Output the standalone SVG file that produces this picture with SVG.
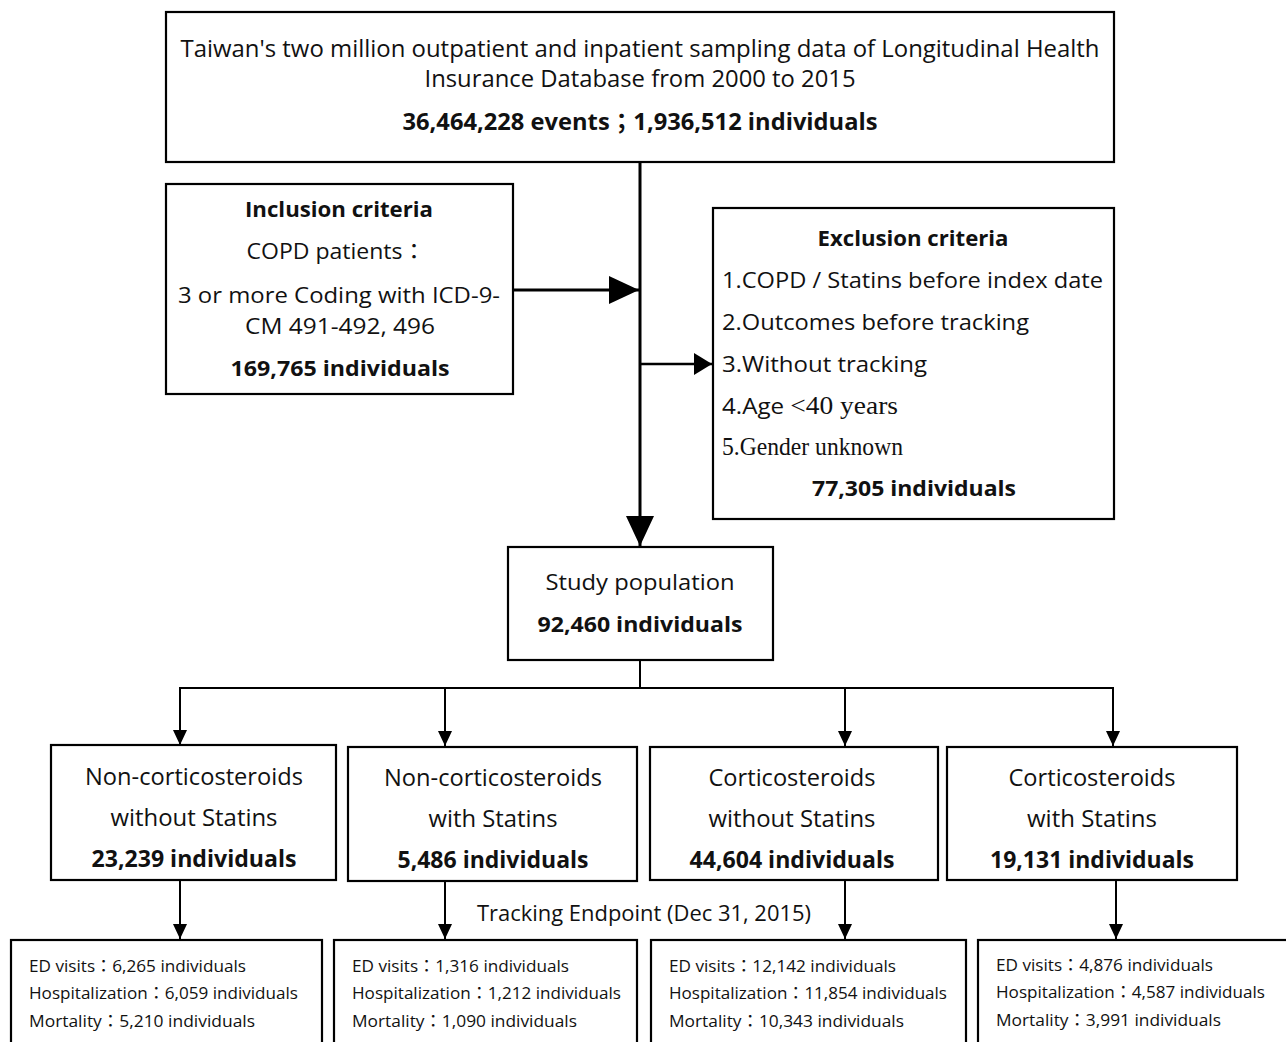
<svg xmlns="http://www.w3.org/2000/svg" width="1286" height="1042" viewBox="0 0 1286 1042">
<style>
.box{fill:#fff;stroke:#000;stroke-width:2.2}
text{font-family:"Open Sans","Noto Sans","Noto Sans CJK TC",sans-serif;fill:#111}
.c{text-anchor:middle}
.b{font-weight:bold}
.t{font-size:23px}
.m{font-size:22px}
.s{font-size:17px}
.serif{font-family:"Liberation Serif","Noto Sans CJK TC",serif}
.ln{fill:none;stroke:#000}
</style>
<defs>
<marker id="big" markerUnits="userSpaceOnUse" viewBox="0 0 30 28" markerWidth="30" markerHeight="28" refX="30" refY="14" orient="auto"><path d="M0,0 L30,14 L0,28 z" fill="#000"/></marker>
<marker id="mid" markerUnits="userSpaceOnUse" viewBox="0 0 18 22" markerWidth="18" markerHeight="22" refX="18" refY="11" orient="auto"><path d="M0,0 L18,11 L0,22 z" fill="#000"/></marker>
<marker id="sm" markerUnits="userSpaceOnUse" viewBox="0 0 15 14" markerWidth="15" markerHeight="14" refX="15" refY="7" orient="auto"><path d="M0,0 L15,7 L0,14 z" fill="#000"/></marker>
</defs>
<rect width="1286" height="1042" fill="#fff"/>
<g id="connectors">
<path class="ln" stroke-width="3" d="M640,162 V546" marker-end="url(#big)"/>
<path class="ln" stroke-width="3" d="M513,290 H639" marker-end="url(#big)"/>
<path class="ln" stroke-width="2.5" d="M640,364 H712" marker-end="url(#mid)"/>
<path class="ln" stroke-width="2" d="M640,660 V688 M179,688 H1114"/>
<path class="ln" stroke-width="2" d="M180,688 V745" marker-end="url(#sm)"/>
<path class="ln" stroke-width="2" d="M445,688 V746" marker-end="url(#sm)"/>
<path class="ln" stroke-width="2" d="M845,688 V746" marker-end="url(#sm)"/>
<path class="ln" stroke-width="2" d="M1113,687 V746" marker-end="url(#sm)"/>
<path class="ln" stroke-width="2" d="M180,880 V939" marker-end="url(#sm)"/>
<path class="ln" stroke-width="2" d="M445,881 V939" marker-end="url(#sm)"/>
<path class="ln" stroke-width="2" d="M845,880 V939" marker-end="url(#sm)"/>
<path class="ln" stroke-width="2" d="M1116,880 V939" marker-end="url(#sm)"/>
</g>
<g id="source">
<rect class="box" x="166" y="12" width="948" height="150"/>
<text class="t c" x="640" y="57" textLength="919" lengthAdjust="spacingAndGlyphs">Taiwan's two million outpatient and inpatient sampling data of Longitudinal Health</text>
<text class="t c" x="640" y="87" textLength="431" lengthAdjust="spacingAndGlyphs">Insurance Database from 2000 to 2015</text>
<text class="t c b" x="640" y="130" textLength="475" lengthAdjust="spacingAndGlyphs">36,464,228 events；1,936,512 individuals</text>
</g>
<g id="inclusion">
<rect class="box" x="166" y="184" width="347" height="210"/>
<text class="m c b" x="339" y="217" textLength="188" lengthAdjust="spacingAndGlyphs">Inclusion criteria</text>
<text class="m c" x="336" y="259" textLength="179" lengthAdjust="spacingAndGlyphs">COPD patients：</text>
<text class="m c" x="339" y="303" textLength="322" lengthAdjust="spacingAndGlyphs">3 or more Coding with ICD-9-</text>
<text class="m c" x="340" y="334" textLength="190" lengthAdjust="spacingAndGlyphs">CM 491-492, 496</text>
<text class="m c b" x="340" y="376" textLength="219" lengthAdjust="spacingAndGlyphs">169,765 individuals</text>
</g>
<g id="exclusion">
<rect class="box" x="713" y="208" width="401" height="311"/>
<text class="m c b" x="913" y="246" textLength="191" lengthAdjust="spacingAndGlyphs">Exclusion criteria</text>
<text class="m" x="722" y="288" textLength="381" lengthAdjust="spacingAndGlyphs">1.COPD / Statins before index date</text>
<text class="m" x="722" y="330" textLength="307" lengthAdjust="spacingAndGlyphs">2.Outcomes before tracking</text>
<text class="m" x="722" y="372" textLength="205" lengthAdjust="spacingAndGlyphs">3.Without tracking</text>
<text class="m" x="722" y="414" textLength="176" lengthAdjust="spacingAndGlyphs">4.Age <tspan class="serif" font-size="25">&lt;40 years</tspan></text>
<text class="m" x="722" y="455" textLength="181" lengthAdjust="spacingAndGlyphs"><tspan class="serif" font-size="25">5.Gender unknown</tspan></text>
<text class="m c b" x="914" y="496" textLength="204" lengthAdjust="spacingAndGlyphs">77,305 individuals</text>
</g>
<g id="study">
<rect class="box" x="508" y="547" width="265" height="113"/>
<text class="m c" x="640" y="590" textLength="189" lengthAdjust="spacingAndGlyphs">Study population</text>
<text class="m c b" x="640" y="632" textLength="205" lengthAdjust="spacingAndGlyphs">92,460 individuals</text>
</g>
<g id="group1">
<rect class="box" x="51" y="745" width="285" height="135"/>
<text class="t c" x="194" y="785" textLength="218" lengthAdjust="spacingAndGlyphs">Non-corticosteroids</text>
<text class="t c" x="194" y="826" textLength="167" lengthAdjust="spacingAndGlyphs">without Statins</text>
<text class="t c b" x="194" y="867" textLength="205" lengthAdjust="spacingAndGlyphs">23,239 individuals</text>
</g>
<g id="group2">
<rect class="box" x="348" y="747" width="289" height="134"/>
<text class="t c" x="493" y="786" textLength="218" lengthAdjust="spacingAndGlyphs">Non-corticosteroids</text>
<text class="t c" x="493" y="827" textLength="129" lengthAdjust="spacingAndGlyphs">with Statins</text>
<text class="t c b" x="493" y="868" textLength="191" lengthAdjust="spacingAndGlyphs">5,486 individuals</text>
</g>
<g id="group3">
<rect class="box" x="650" y="747" width="288" height="133"/>
<text class="t c" x="792" y="786" textLength="167" lengthAdjust="spacingAndGlyphs">Corticosteroids</text>
<text class="t c" x="792" y="827" textLength="167" lengthAdjust="spacingAndGlyphs">without Statins</text>
<text class="t c b" x="792" y="868" textLength="205" lengthAdjust="spacingAndGlyphs">44,604 individuals</text>
</g>
<g id="group4">
<rect class="box" x="947" y="747" width="290" height="133"/>
<text class="t c" x="1092" y="786" textLength="167" lengthAdjust="spacingAndGlyphs">Corticosteroids</text>
<text class="t c" x="1092" y="827" textLength="130" lengthAdjust="spacingAndGlyphs">with Statins</text>
<text class="t c b" x="1092" y="868" textLength="204" lengthAdjust="spacingAndGlyphs">19,131 individuals</text>
</g>
<g id="tracking-label">
<text class="c" font-size="21" x="644" y="921" textLength="334" lengthAdjust="spacingAndGlyphs">Tracking Endpoint (Dec 31, 2015)</text>
</g>
<g id="outcome1">
<rect class="box" x="11" y="940" width="311" height="110"/>
<text class="s" x="29" y="972" textLength="217" lengthAdjust="spacingAndGlyphs">ED visits：6,265 individuals</text>
<text class="s" x="29" y="999" textLength="269" lengthAdjust="spacingAndGlyphs">Hospitalization：6,059 individuals</text>
<text class="s" x="29" y="1027" textLength="226" lengthAdjust="spacingAndGlyphs">Mortality：5,210 individuals</text>
</g>
<g id="outcome2">
<rect class="box" x="334" y="940" width="303" height="110"/>
<text class="s" x="352" y="972" textLength="217" lengthAdjust="spacingAndGlyphs">ED visits：1,316 individuals</text>
<text class="s" x="352" y="999" textLength="269" lengthAdjust="spacingAndGlyphs">Hospitalization：1,212 individuals</text>
<text class="s" x="352" y="1027" textLength="225" lengthAdjust="spacingAndGlyphs">Mortality：1,090 individuals</text>
</g>
<g id="outcome3">
<rect class="box" x="651" y="940" width="315" height="110"/>
<text class="s" x="669" y="972" textLength="227" lengthAdjust="spacingAndGlyphs">ED visits：12,142 individuals</text>
<text class="s" x="669" y="999" textLength="278" lengthAdjust="spacingAndGlyphs">Hospitalization：11,854 individuals</text>
<text class="s" x="669" y="1027" textLength="235" lengthAdjust="spacingAndGlyphs">Mortality：10,343 individuals</text>
</g>
<g id="outcome4">
<rect class="box" x="978" y="940" width="315" height="110"/>
<text class="s" x="996" y="971" textLength="217" lengthAdjust="spacingAndGlyphs">ED visits：4,876 individuals</text>
<text class="s" x="996" y="998" textLength="269" lengthAdjust="spacingAndGlyphs">Hospitalization：4,587 individuals</text>
<text class="s" x="996" y="1026" textLength="225" lengthAdjust="spacingAndGlyphs">Mortality：3,991 individuals</text>
</g>
</svg>
